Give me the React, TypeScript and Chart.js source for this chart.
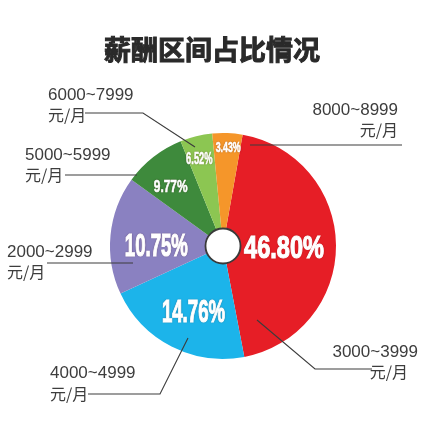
import React, { useEffect, useRef } from "react";
import { Chart, registerables } from "chart.js";

Chart.register(...registerables);

// slices, clockwise from just right of 12 o'clock
const categories = ["3000~3999", "4000~4999", "2000~2999", "5000~5999", "6000~7999", "8000~8999"];
const unitText = "元/月";
// printed percentages (as on the source picture)
const percentLabels = ["46.80%", "14.76%", "10.75%", "9.77%", "6.52%", "3.43%"];
// slice sizes as drawn in the source picture (share of the full circle, %)
const sliceShares = [44.2, 21.1, 16.9, 8.9, 4.6, 4.3];
const sliceColors = ["#e61e26", "#1cb4ea", "#8a81c1", "#3e8a3c", "#8cc652", "#f5962a"];

const titleText = "薪酬区间占比情况";

// percent label placement: [radius fraction, angle offset deg, font px, x scale]
const pctStyle: [number, number, number, number][] = [
  [0.54, 2.5, 31, 0.76],
  [0.64, -3, 31, 0.6],
  [0.59, -5.5, 31, 0.6],
  [0.7, -3.4, 17, 0.7],
  [0.8, -1.4, 17, 0.55],
  [0.88, 0.7, 14, 0.63],
];

// callouts: text anchor, align, line1 baseline, line2 x / baseline, leader polyline
type Callout = {
  x: number;
  align: CanvasTextAlign;
  y1: number;
  x2: number;
  y2: number;
  line: [number, number][];
};
const callouts: Callout[] = [
  { x: 418, align: "right", y1: 357, x2: 408, y2: 378, line: [[372, 369], [315, 369], [257, 320]] },
  { x: 50, align: "left", y1: 378, x2: 50, y2: 400, line: [[88, 394], [160, 394], [188, 338]] },
  { x: 7, align: "left", y1: 257, x2: 7, y2: 278, line: [[47, 263], [133, 263]] },
  { x: 25, align: "left", y1: 160, x2: 25, y2: 181, line: [[65, 175], [137, 175]] },
  { x: 48, align: "left", y1: 100, x2: 48, y2: 121, line: [[85, 113], [143, 113], [195, 147]] },
  { x: 398, align: "right", y1: 115, x2: 398, y2: 136, line: [[402, 145], [250, 145]] },
];

const overlayPlugin = {
  id: "overlay",
  afterDatasetsDraw(chart: any) {
    const ctx: CanvasRenderingContext2D = chart.ctx;
    const meta = chart.getDatasetMeta(0);
    const first = meta.data[0].getProps(["x", "y", "innerRadius", "outerRadius"], true);
    const cx = first.x;
    const cy = first.y;

    ctx.save();
    // hole outline
    ctx.beginPath();
    ctx.arc(cx, cy, first.innerRadius, 0, Math.PI * 2);
    ctx.fillStyle = "#ffffff";
    ctx.fill();
    ctx.lineWidth = 1.8;
    ctx.strokeStyle = "#3a3a3a";
    ctx.stroke();

    // percent labels
    meta.data.forEach((el: any, i: number) => {
      const p = el.getProps(["startAngle", "endAngle", "outerRadius"], true);
      const [frac, offDeg, size, sx] = pctStyle[i];
      const mid = (p.startAngle + p.endAngle) / 2 + (offDeg * Math.PI) / 180;
      const r = p.outerRadius * frac;
      const x = cx + Math.cos(mid) * r;
      const y = cy + Math.sin(mid) * r;
      ctx.save();
      ctx.translate(x, y);
      ctx.scale(sx, 1);
      ctx.font = `bold ${size}px "Liberation Sans", Arial, sans-serif`;
      ctx.textAlign = "center";
      ctx.textBaseline = "middle";
      ctx.shadowColor = "rgba(60,0,0,0.55)";
      ctx.shadowBlur = 2;
      ctx.fillStyle = "#ffffff";
      ctx.fillText(percentLabels[i], 0, 1);
      ctx.shadowColor = "transparent";
      ctx.lineWidth = size > 20 ? 1.2 : 0.6;
      ctx.strokeStyle = "#ffffff";
      ctx.strokeText(percentLabels[i], 0, 1);
      ctx.restore();
    });

    // callout lines and category labels
    callouts.forEach((c, i) => {
      ctx.beginPath();
      c.line.forEach(([lx, ly], k) => (k === 0 ? ctx.moveTo(lx, ly) : ctx.lineTo(lx, ly)));
      ctx.lineWidth = 1.1;
      ctx.strokeStyle = "#3c3c3c";
      ctx.stroke();

      ctx.fillStyle = "#3d3d3d";
      ctx.textAlign = c.align;
      ctx.textBaseline = "alphabetic";
      ctx.font = `17px "Liberation Sans", Arial, sans-serif`;
      ctx.fillText(categories[i], c.x, c.y1);
      ctx.font = `16px "Noto Sans CJK SC", sans-serif`;
      ctx.fillText(unitText, c.x2, c.y2);
    });

    // title (heavy weight)
    ctx.font = `bold 27px "Noto Sans CJK SC", sans-serif`;
    ctx.fillStyle = "#2a2a2a";
    ctx.strokeStyle = "#2a2a2a";
    ctx.lineWidth = 1;
    ctx.textAlign = "center";
    ctx.textBaseline = "middle";
    ctx.fillText(titleText, 212, 50);
    ctx.strokeText(titleText, 212, 50);
    ctx.restore();
  },
};

function SalaryPie() {
  const canvasRef = useRef<HTMLCanvasElement | null>(null);
  const chartRef = useRef<Chart | null>(null);

  useEffect(() => {
    if (!canvasRef.current) return;
    const ctx = canvasRef.current.getContext("2d");
    if (!ctx) return;

    if (chartRef.current) chartRef.current.destroy();

    chartRef.current = new Chart(ctx, {
      type: "doughnut",
      data: {
        labels: categories,
        datasets: [
          {
            data: sliceShares,
            backgroundColor: sliceColors,
            borderWidth: 0,
          },
        ],
      },
      options: {
        responsive: false,
        animation: false,
        rotation: 10,
        cutout: "15.5%",
        layout: {
          padding: { top: 133, bottom: 64, left: 110, right: 105 },
        },
        plugins: {
          legend: { display: false },
          tooltip: { enabled: false },
          title: { display: false },
        },
      },
      plugins: [overlayPlugin],
    });

    return () => {
      if (chartRef.current) {
        chartRef.current.destroy();
        chartRef.current = null;
      }
    };
  }, []);

  return <canvas ref={canvasRef} width={441} height={423} />;
}

export default function App() {
  return (
    <div style={{ position: "absolute", left: 0, top: 0, width: 441, height: 423, background: "#fff" }}>
      <SalaryPie />
    </div>
  );
}
